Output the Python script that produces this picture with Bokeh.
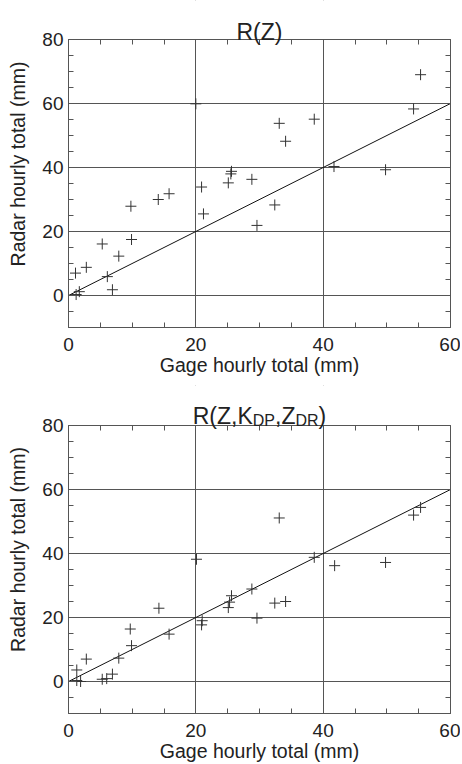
from bokeh.plotting import figure
from bokeh.models import Range1d, LinearAxis, SingleIntervalTicker, Label, BoxAnnotation
from bokeh.layouts import column
from bokeh.embed import file_html
from bokeh.resources import INLINE

# ---- data ----
top_gage = [1.1, 2.8, 1.2, 1.7, 5.3, 6.1, 6.9, 7.9, 9.8, 9.9, 14.1, 15.8, 20.0, 20.9,
            21.2, 25.1, 25.5, 25.6, 28.8, 29.6, 32.4, 33.1, 34.1, 38.6, 41.7, 49.8, 54.2, 55.3]
top_radar = [7.0, 8.8, 0.3, 1.2, 16.1, 5.9, 1.8, 12.3, 27.9, 17.5, 30.0, 31.8, 59.9, 33.9,
             25.5, 35.2, 38.0, 38.8, 36.3, 21.9, 28.3, 53.8, 48.2, 55.1, 40.3, 39.3, 58.3, 69.0]

bot_gage = [1.3, 1.3, 1.9, 2.8, 5.3, 6.0, 6.9, 7.9, 9.7, 9.9, 14.2, 15.8, 20.1, 21.0,
            20.9, 25.1, 25.3, 25.6, 28.8, 29.6, 32.4, 33.1, 34.1, 38.6, 41.8, 49.8, 54.2, 55.3]
bot_radar = [3.6, 0.3, 0.0, 7.0, 0.7, 0.9, 2.3, 7.3, 16.4, 11.2, 22.9, 14.8, 38.2, 19.0,
             17.7, 23.1, 24.8, 26.8, 28.9, 19.8, 24.5, 51.1, 25.0, 38.8, 36.2, 37.2, 52.0, 54.4]

one_to_one_x = [0, 60]
one_to_one_y = [0, 60]

X_MIN, X_MAX = 0, 60
Y_MIN, Y_MAX = -10, 80

FONT = "Liberation Sans"
GRID = "#555555"
INK = "#222222"
LEFT, RIGHT, FW = 68, 10, 382
PX_PER_Y = 3.2   # frame pixels per y unit


def style_axis(ax, labels=True):
    ax.axis_line_color = GRID
    ax.major_tick_line_color = GRID
    ax.minor_tick_line_color = GRID
    if labels:
        ax.major_label_text_font = FONT
        ax.major_label_text_font_size = "19px"
        ax.major_label_text_color = INK
        ax.axis_label_text_font = FONT
        ax.axis_label_text_font_size = "19.5px"
        ax.axis_label_text_font_style = "normal"
        ax.axis_label_text_color = INK
    else:
        ax.major_label_text_font_size = "0px"
        ax.major_label_standoff = 0
        ax.major_label_text_alpha = 0


def make_plot(gx, gy, title_px, bottom_border):
    # the frame extends title_px pixels above y=80 so the title sits inside the canvas
    y_top = Y_MAX + title_px / PX_PER_Y
    fh = int(round((y_top - Y_MIN) * PX_PER_Y))
    p = figure(frame_width=FW, frame_height=fh,
               x_range=Range1d(X_MIN, X_MAX), y_range=Range1d(Y_MIN, y_top),
               output_backend="svg", toolbar_location=None,
               min_border_left=LEFT, min_border_right=RIGHT,
               min_border_top=0, min_border_bottom=bottom_border,
               background_fill_color="white", border_fill_color="white",
               outline_line_color=None)
    xt = SingleIntervalTicker(interval=20, num_minor_ticks=4)
    yt = SingleIntervalTicker(interval=20, num_minor_ticks=4)
    p.xaxis.ticker = xt
    p.yaxis.ticker = yt
    p.xgrid.ticker = xt
    p.ygrid.ticker = yt
    p.yaxis.bounds = (Y_MIN, Y_MAX)
    p.xaxis.axis_label = "Gage hourly total (mm)"
    p.yaxis.axis_label = "Radar hourly total (mm)"
    for ax in (p.xaxis[0], p.yaxis[0]):
        style_axis(ax)
        ax.major_tick_in = 8
        ax.major_tick_out = 0
        ax.minor_tick_in = 5
        ax.minor_tick_out = 0
    p.xaxis.major_label_standoff = 10
    p.xaxis.axis_label_standoff = 0
    p.yaxis.major_label_standoff = 5
    p.yaxis.axis_label_standoff = 10

    # top edge of the box: an axis fixed at y=80 whose ticks point down into the plot
    top_ax = LinearAxis(ticker=xt, fixed_location=Y_MAX)
    style_axis(top_ax, labels=False)
    top_ax.major_tick_in = 0
    top_ax.major_tick_out = 8
    top_ax.minor_tick_in = 0
    top_ax.minor_tick_out = 5
    p.add_layout(top_ax, "below")

    right_ax = LinearAxis(ticker=yt, bounds=(Y_MIN, Y_MAX))
    style_axis(right_ax, labels=False)
    right_ax.major_tick_in = 8
    right_ax.major_tick_out = 0
    right_ax.minor_tick_in = 5
    right_ax.minor_tick_out = 0
    p.add_layout(right_ax, "right")

    for g in (p.xgrid, p.ygrid):
        g.grid_line_color = GRID
        g.grid_line_width = 1
        g.grid_line_alpha = 1

    # blank the area above the box (title area)
    p.add_layout(BoxAnnotation(bottom=Y_MAX, fill_color="white", fill_alpha=1,
                               line_color=None, level="underlay"))

    p.line(one_to_one_x, one_to_one_y, line_color="#111111", line_width=1)
    p.scatter(gx, gy, marker="cross", size=11, line_color="#333333", line_width=1)
    return p


def add_title(p, pieces, lift):
    total = sum(w for _, _, _, w in pieces)
    xoff = -total / 2
    for txt, size, dy, w in pieces:
        p.add_layout(Label(x=(X_MIN + X_MAX) / 2, y=Y_MAX, text=txt, text_align="left",
                           text_baseline="alphabetic", x_offset=xoff, y_offset=lift + dy,
                           text_font=FONT, text_font_size=f"{size}px", text_color=INK))
        xoff += w


F, f = 23, 16
p1 = make_plot(top_gage, top_radar, 39, 58)
add_title(p1, [("R(Z)", F, 0, 1.999 * F)], 8)

p2 = make_plot(bot_gage, bot_radar, 40, 50)
add_title(p2, [("R(Z,K", F, 0, 2.611 * F), ("DP", f, -5, 1.389 * f),
               (",Z", F, 0, 0.889 * F), ("DR", f, -5, 1.444 * f),
               (")", F, 0, 0.333 * F)], 10)

layout = column(p1, p2, spacing=0)
open("out.html", "w").write(file_html(layout, INLINE))
